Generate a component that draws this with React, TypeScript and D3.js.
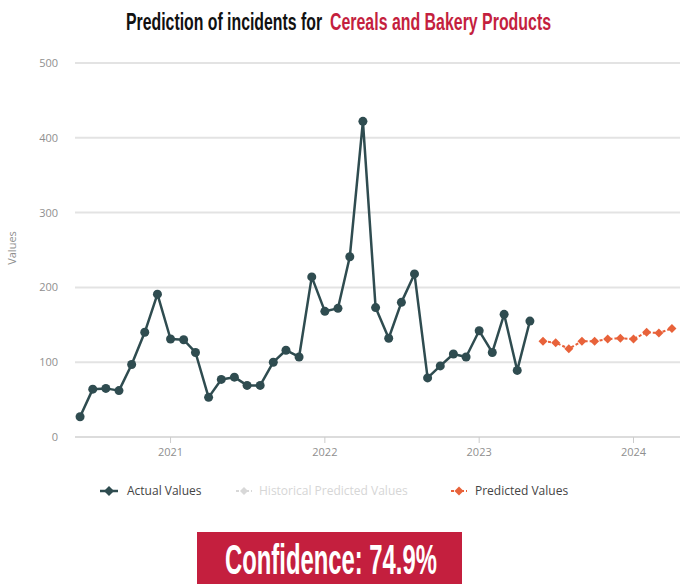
import React, { useLayoutEffect, useRef, useState } from "react";
import * as d3 from "d3";

const actualDates = [
  "2020-06","2020-07","2020-08","2020-09","2020-10","2020-11","2020-12",
  "2021-01","2021-02","2021-03","2021-04","2021-05","2021-06","2021-07","2021-08","2021-09","2021-10","2021-11","2021-12",
  "2022-01","2022-02","2022-03","2022-04","2022-05","2022-06","2022-07","2022-08","2022-09","2022-10","2022-11","2022-12",
  "2023-01","2023-02","2023-03","2023-04","2023-05",
];
const actualValues = [
  27, 64, 65, 62, 97, 140, 191,
  131, 130, 113, 53, 77, 80, 69, 69, 100, 116, 107, 214,
  168, 172, 241, 422, 173, 132, 180, 218, 79, 95, 111, 107,
  142, 113, 164, 89, 155,
];
const predictedDates = [
  "2023-06","2023-07","2023-08","2023-09","2023-10","2023-11","2023-12",
  "2024-01","2024-02","2024-03","2024-04",
];
const predictedValues = [128, 126, 118, 128, 128, 131, 132, 131, 140, 139, 145];
const yTicks = [0, 100, 200, 300, 400, 500];
const xTickYears = [2021, 2022, 2023, 2024];

const parse = (s: string) => {
  const [y, m] = s.split("-").map(Number);
  return new Date(y, m - 1, 1);
};

const condFont = "'Liberation Sans Narrow', 'Liberation Sans', sans-serif";

function FitText(props: { x: number; y: number; width: number; sy?: number; fill: string; fontSize: number; children: string }) {
  const ref = useRef<SVGTextElement>(null);
  const [sx, setSx] = useState(1);
  useLayoutEffect(() => {
    if (ref.current) {
      const w = ref.current.getComputedTextLength();
      if (w > 0) setSx(props.width / w);
    }
  }, [props.width, props.children]);
  return (
    <g transform={`translate(${props.x},${props.y}) scale(${sx},${props.sy ?? 1})`}>
      <text ref={ref} x={0} y={0} fill={props.fill} fontFamily={condFont} fontWeight="bold" fontSize={props.fontSize}>
        {props.children}
      </text>
    </g>
  );
}

export default function App() {
  const W = 686, H = 584;
  const x = d3.scaleTime()
    .domain([new Date(2020, 4, 20), new Date(2024, 3, 20)])
    .range([75, 680]);
  const y = d3.scaleLinear().domain([0, 500]).range([437, 63]);

  const actual = actualDates.map((d, i) => ({ d: parse(d), v: actualValues[i] }));
  const pred = predictedDates.map((d, i) => ({ d: parse(d), v: predictedValues[i] }));
  const line = d3.line<{ d: Date; v: number }>().x(p => x(p.d)).y(p => y(p.v));

  const darkC = "#2f4c50";
  const predC = "#e8623a";
  const red = "#c41f3e";
  const axisFont = "'Open Sans', sans-serif";

  const diamond = (cx: number, cy: number, r: number) =>
    `M${cx},${cy - r}L${cx + r},${cy}L${cx},${cy + r}L${cx - r},${cy}Z`;

  return (
    <svg width={W} height={H} style={{ position: "absolute", left: 0, top: 0, background: "#fff" }}>
      <rect x={0} y={0} width={W} height={H} fill="#fff" />
      {/* Title */}
      <FitText x={126} y={30} width={196} sy={1.1} fill="#111" fontSize={21}>Prediction of incidents for</FitText>
      <FitText x={330} y={30} width={221} sy={1.1} fill={red} fontSize={21}>Cereals and Bakery Products</FitText>

      {/* grid */}
      {yTicks.map(t => (
        <g key={t}>
          <line x1={75} x2={680} y1={y(t)} y2={y(t)} stroke={t === 0 ? "#dcdcdc" : "#e3e3e3"} strokeWidth={2} />
          <text x={58} y={y(t) + 4} textAnchor="end" fontFamily={axisFont} fontSize={11} fill="#8f8f8f">{t}</text>
        </g>
      ))}
      {xTickYears.map(yr => {
        const px = x(new Date(yr, 0, 1));
        return (
          <g key={yr}>
            <line x1={px} x2={px} y1={437} y2={443} stroke="#ccc" strokeWidth={1} />
            <text x={px} y={456} textAnchor="middle" fontFamily={axisFont} fontSize={11} fill="#8f8f8f">{yr}</text>
          </g>
        );
      })}
      <text transform={`translate(16,248) rotate(-90)`} textAnchor="middle" fontFamily={axisFont} fontSize={11} fill="#8f8f8f">Values</text>

      {/* actual */}
      <path d={line(actual) || ""} fill="none" stroke={darkC} strokeWidth={2.5} strokeLinejoin="round" />
      {actual.map((p, i) => (
        <circle key={i} cx={x(p.d)} cy={y(p.v)} r={4.5} fill={darkC} />
      ))}

      {/* predicted */}
      <path d={line(pred) || ""} fill="none" stroke={predC} strokeWidth={2} strokeDasharray="3,2" />
      {pred.map((p, i) => (
        <path key={i} d={diamond(x(p.d), y(p.v), 4.5)} fill={predC} />
      ))}

      {/* legend */}
      <g fontFamily={axisFont} fontSize={12}>
        <line x1={100} x2={118} y1={491} y2={491} stroke={darkC} strokeWidth={2.5} />
        <path d={diamond(109, 491, 5)} fill={darkC} />
        <text x={127} y={495} fill="#444">Actual Values</text>

        <line x1={236} x2={252} y1={491} y2={491} stroke="#d8d8d8" strokeWidth={2} strokeDasharray="3,2" />
        <path d={diamond(244, 491, 4)} fill="#d8d8d8" />
        <text x={259} y={495} fill="#d6d6d6">Historical Predicted Values</text>

        <line x1={451} x2={467} y1={491} y2={491} stroke={predC} strokeWidth={2} strokeDasharray="3,2" />
        <path d={diamond(459, 491, 4.5)} fill={predC} />
        <text x={475} y={495} fill="#444">Predicted Values</text>
      </g>

      {/* confidence */}
      <rect x={197} y={532} width={265} height={52} fill={red} />
      <FitText x={225} y={574} width={212} fill="#fff" fontSize={42}>Confidence: 74.9%</FitText>
    </svg>
  );
}
